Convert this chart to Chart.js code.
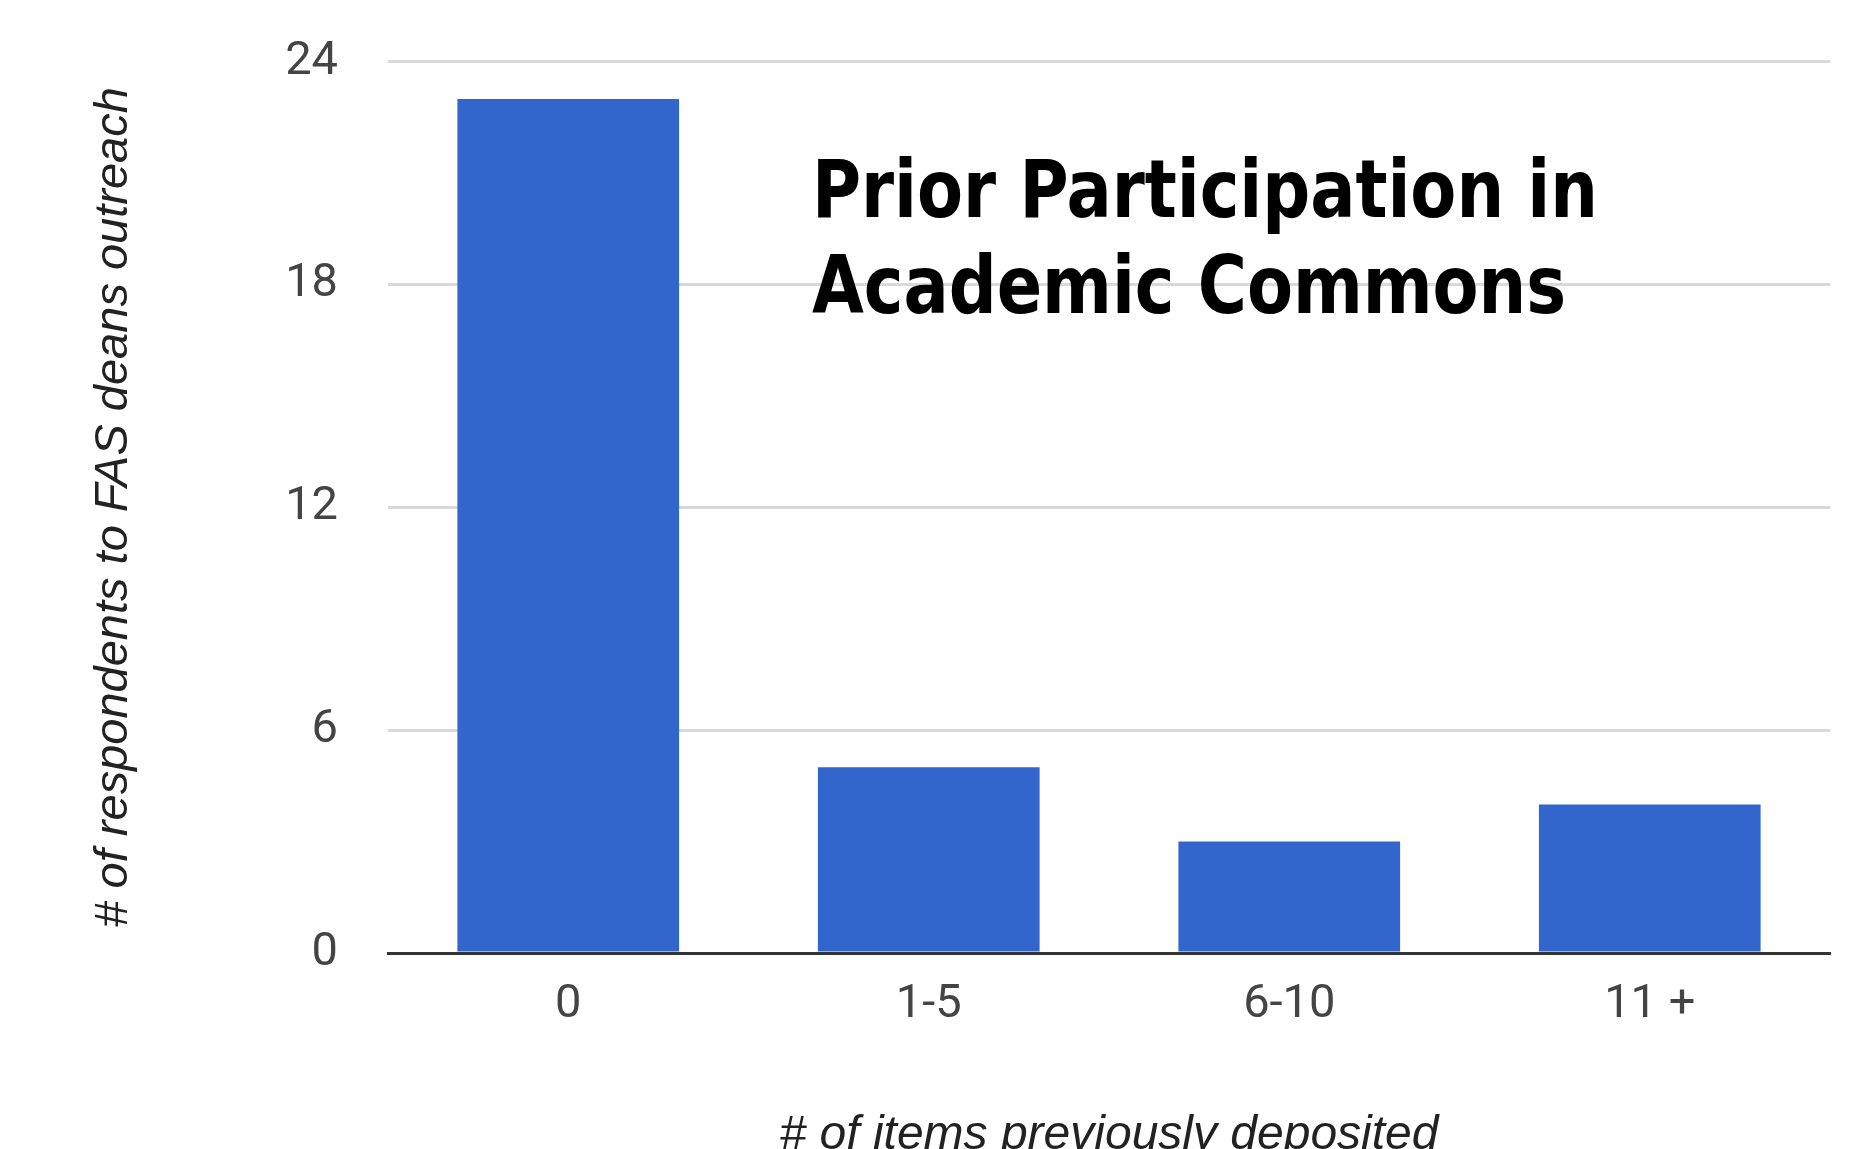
<!DOCTYPE html>
<html>
<head>
<meta charset="utf-8">
<script src="https://cdn.jsdelivr.net/npm/chart.js@4.4.1/dist/chart.umd.min.js"></script>
<style>
  html,body{margin:0;padding:0;background:#fff;}
  #wrap{width:1874px;height:1149px;position:relative;}
</style>
</head>
<body>
<div id="wrap"><canvas id="c"></canvas></div>
<script>
const categories = ["0", "1-5", "6-10", "11 +"];
const respondents = [23, 5, 3, 4];
const yTicks = [0, 6, 12, 18, 24];
const titleLines = ["Prior Participation in", "Academic Commons"];
const xTitle = "# of items previously deposited";
const yTitle = "# of respondents to FAS deans outreach";

const tickFont = 'Roboto, "Liberation Sans", Arial, sans-serif';

// title sits inside the plot area, so draw it after the chart
const inlineTitle = {
  id: 'inlineTitle',
  afterDraw(chart){
    const ctx = chart.ctx;
    ctx.save();
    ctx.fillStyle = '#000';
    ctx.textBaseline = 'alphabetic';
    ctx.textAlign = 'left';
    ctx.font = 'bold 80px "DejaVu Sans Condensed", "DejaVu Sans", sans-serif';
    const w = ctx.measureText(titleLines[0]).width;
    const sx = 786 / w;
    const baselines = [217, 313];
    titleLines.forEach((t, i) => {
      ctx.save();
      ctx.translate(812, baselines[i]);
      ctx.scale(sx, 1);
      ctx.fillText(t, 0, 0);
      ctx.restore();
    });
    ctx.restore();
  }
};

new Chart(document.getElementById('c'), {
  type: 'bar',
  data: {
    labels: categories,
    datasets: [{
      data: respondents,
      backgroundColor: '#3366cc',
      borderWidth: 0,
      barPercentage: 0.615,
      categoryPercentage: 1
    }]
  },
  options: {
    responsive: true,
    maintainAspectRatio: false,
    animation: false,
    devicePixelRatio: 1,
    layout: { padding: { top: 0, right: 44, left: 0, bottom: 0 } },
    plugins: { legend: { display: false }, tooltip: { enabled: false }, title: { display: false } },
    scales: {
      x: {
        grid: { display: false, drawTicks: false },
        border: { display: true, color: '#333', width: 3 },
        ticks: { color: '#444', font: { family: tickFont, size: 47 }, padding: 24 },
        title: {
          display: true, text: xTitle, color: '#222',
          font: { family: '"Liberation Sans", Arial, sans-serif', size: 48, style: 'italic', lineHeight: 1 },
          padding: { top: 0, bottom: -11 }
        },
        afterFit(s){ s.height = 196; }
      },
      y: {
        min: 0, max: 24,
        afterBuildTicks(s){ s.ticks = yTicks.map(v => ({ value: v })); },
        grid: {
          drawTicks: false, lineWidth: 3,
          color: c => (c.tick && c.tick.value === 0) ? 'rgba(0,0,0,0)' : '#d9d9d9'
        },
        border: { display: false },
        // small lineHeight keeps the top label from pushing the plot area down
        ticks: { color: '#444', font: { family: tickFont, size: 47, lineHeight: 0.5 }, padding: 50 },
        title: {
          display: true, text: yTitle, color: '#222',
          font: { family: '"Liberation Sans", Arial, sans-serif', size: 47, style: 'italic', lineHeight: 1.2 },
          padding: { top: 86, bottom: 0 }
        },
        afterFit(s){ s.width = 388; }
      }
    }
  },
  plugins: [inlineTitle]
});
</script>
</body>
</html>
